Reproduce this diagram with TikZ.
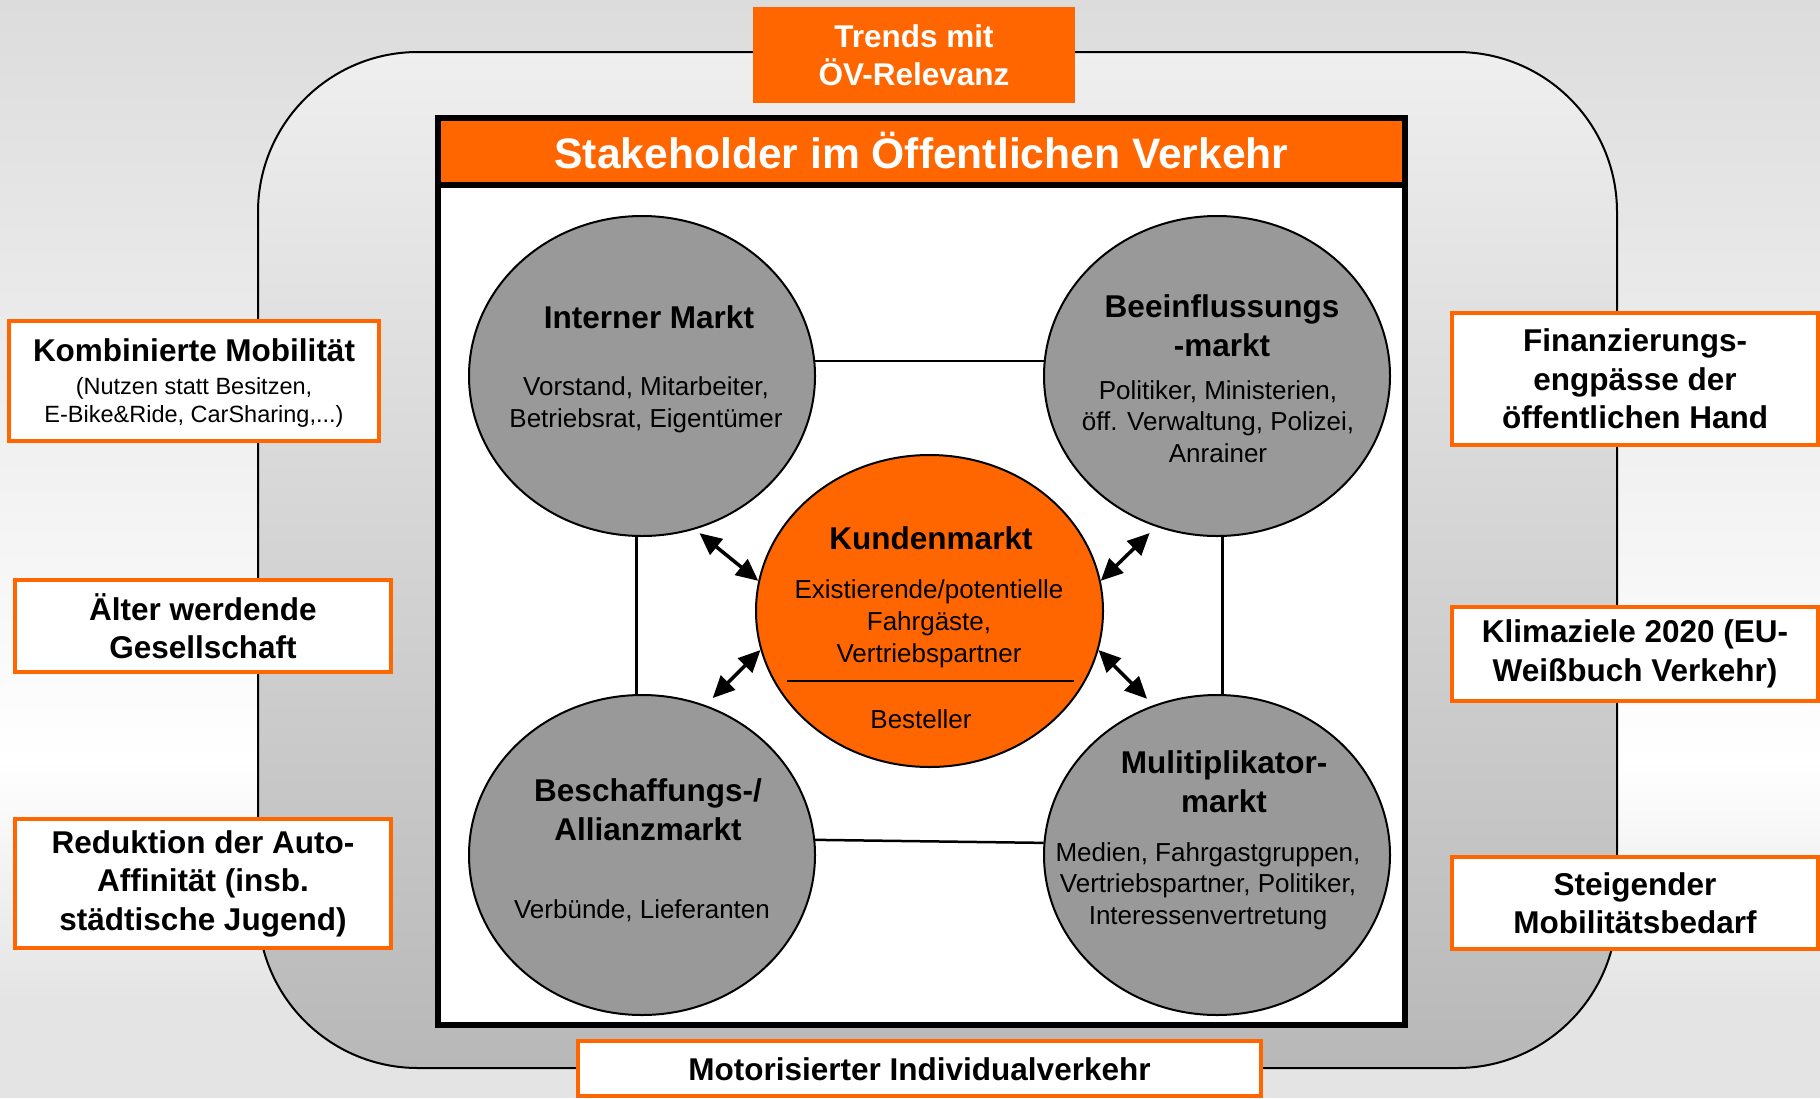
\documentclass[tikz,border=0pt]{standalone}
\usepackage{fontspec}
\setmainfont{Liberation Sans}
\usetikzlibrary{shapes.geometric, arrows.meta}

\definecolor{oevorange}{HTML}{FF6600}
\definecolor{marktgrau}{HTML}{999999}
\definecolor{bgtop}{HTML}{DCDCDC}
\definecolor{bgbot}{HTML}{E4E4E4}
\definecolor{frametop}{HTML}{EFEFEF}
\definecolor{framebot}{HTML}{B8B8B8}

\newcommand{\headsize}{\fontsize{31.5}{38.5}\selectfont\bfseries}
\newcommand{\bodysize}{\fontsize{26}{31.5}\selectfont}
\newcommand{\notesize}{\fontsize{23.5}{28.5}\selectfont}

\tikzset{
  markt/.style={ellipse, draw, line width=2, fill=marktgrau,
    minimum width=346, minimum height=320, inner sep=0},
  trendbox/.style={draw=oevorange, line width=4, fill=white, inner sep=0,
    align=center, font=\headsize},
  head/.style={anchor=base, inner sep=0, align=center, font=\headsize},
  body/.style={anchor=base, inner sep=0, align=center, font=\bodysize},
  link/.style={line width=2.5},
  wechsel/.style={line width=3.5,
    {Triangle[length=22pt, width=20pt]}-{Triangle[length=22pt, width=20pt]}},
}

\begin{document}
\begin{tikzpicture}[x=1pt, y=-1pt]
  \useasboundingbox (0,0) rectangle (1820,1098);

  % background
  \shade[top color=bgtop, bottom color=white] (0,0) rectangle (1820,761);
  \shade[top color=white, bottom color=bgbot] (0,760) rectangle (1820,1001);
  \fill[bgbot] (0,1000) rectangle (1820,1098);

  % outer frame
  \draw[line width=2, rounded corners=160, top color=frametop, bottom color=framebot]
    (258,52) rectangle (1617,1068);

  % stage with header
  \node[draw, line width=6, fill=white, minimum width=967, minimum height=907,
        inner sep=0] (buehne) at (921.5,571.5) {};
  \node[fill=oevorange, minimum width=961, minimum height=64, inner sep=0,
        outer sep=0, text=white, font=\fontsize{42.6}{50}\selectfont\bfseries,
        text height=31, text depth=0] (kopf) at (921.5,153)
        {Stakeholder im Öffentlichen Verkehr};
  \draw[line width=6] (kopf.south west) -- (kopf.south east);

  % markets
  \node[markt] (intern) at (642,376) {};
  \node[markt] (beein) at (1217,376) {};
  \node[markt] (beschaff) at (642,855) {};
  \node[markt] (multi) at (1217,855) {};
  \node[markt, fill=oevorange, minimum width=347, minimum height=312] (kunden) at (929.5,611) {};

  \draw[link] (intern.5) -- (beein.175);
  \draw[link] (beschaff.5) -- (multi.176);
  \draw[link] (intern.-92) -- (beschaff.92);
  \draw[link] (beein.-88) -- (multi.88);

  % base = last line
  \node[head] (intern-head) at (649,328) {Interner Markt};
  \node[body] (intern-body) at (646,427) {Vorstand, Mitarbeiter,\\Betriebsrat, Eigentümer};
  \node[head] (beein-head) at (1222,356) {Beeinflussungs\\-markt};
  \node[body] (beein-body) at (1218,462) {Politiker, Ministerien,\\öff. Verwaltung, Polizei,\\Anrainer};
  \node[head] (beschaff-head) at (648,840) {Beschaffungs-/\\Allianzmarkt};
  \node[body] (beschaff-body) at (642,918) {Verbünde, Lieferanten};
  \node[head] (multi-head) at (1224,812) {Mulitiplikator-\\markt};
  \node[body] (multi-body) at (1208,924) {Medien, Fahrgastgruppen,\\Vertriebspartner, Politiker,\\Interessenvertretung};

  \node[head] (kunden-head) at (931,549) {Kundenmarkt};
  \node[body, font=\fontsize{26}{32}\selectfont] (kunden-body) at (929,662)
    {Existierende/potentielle\\Fahrgäste,\\Vertriebspartner};
  \draw[link] (787,681) -- (1074,681);
  \node[body] (besteller) at (921,728) {Besteller};

  % exchange with the customer market
  \draw[wechsel, shorten <=6] (intern.-71) -- (kunden.170.6);
  \draw[wechsel, shorten <=10] (beschaff.67) -- (kunden.193);
  \draw[wechsel, shorten >=9] (kunden.10) -- (beein.248.3);
  \draw[wechsel, shorten >=9] (kunden.-13) -- (multi.113.5);

  % trends around it
  \node[fill=oevorange, minimum width=322, minimum height=96, inner sep=0,
        align=center, text=white, font=\fontsize{31.5}{38}\selectfont\bfseries]
        (trends) at (914,55) {Trends mit\\ÖV-Relevanz};
  \node[trendbox, minimum width=370, minimum height=120, font=\notesize,
        text depth=0] (kombi) at (194,381)
    {{\headsize Kombinierte Mobilität}\\[4pt](Nutzen statt Besitzen,\\E-Bike\&Ride, CarSharing,...)};
  \node[trendbox, minimum width=376, minimum height=92] (alter) at (203,626)
    {Älter werdende\\Gesellschaft};
  \node[trendbox, minimum width=376, minimum height=129] (auto) at (203,883.5)
    {Reduktion der Auto-\\Affinität (insb.\\städtische Jugend)};
  \node[trendbox, minimum width=366, minimum height=132] (finanz) at (1635,379)
    {Finanzierungs-\\engpässe der\\öffentlichen Hand};
  \node[trendbox, minimum width=366, minimum height=94] (klima) at (1635,654)
    {Klimaziele 2020 (EU-\\Weißbuch Verkehr)};
  \node[trendbox, minimum width=366, minimum height=92] (bedarf) at (1635,903)
    {Steigender\\Mobilitätsbedarf};
  \node[trendbox, minimum width=683, minimum height=55, text height=23, text depth=0] (miv) at (919.5,1068.5)
    {Motorisierter Individualverkehr};
\end{tikzpicture}
\end{document}
